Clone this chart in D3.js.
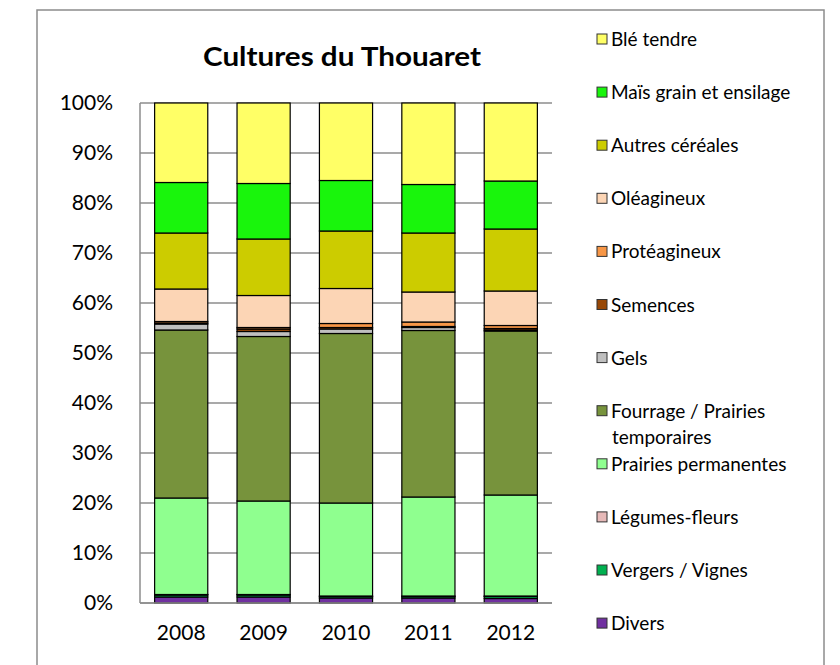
<!DOCTYPE html>
<html>
<head>
<meta charset="utf-8">
<script src="https://cdn.jsdelivr.net/npm/d3@7"></script>
<style>
  html, body { margin: 0; padding: 0; background: #fff; }
  svg { display: block; }
  text { font-family: Lato, "Open Sans", sans-serif; fill: #000; }
</style>
</head>
<body>
<svg id="chart" width="840" height="665"></svg>
<script>
// Years along the x axis
const years = ["2008", "2009", "2010", "2011", "2012"];

// Crop categories, stacked bottom to top
const crops = [
  "Divers", "Vergers / Vignes", "Légumes-fleurs", "Prairies permanentes",
  "Fourrage / Prairies temporaires", "Gels", "Semences", "Protéagineux",
  "Oléagineux", "Autres céréales", "Maïs grain et ensilage", "Blé tendre"
];

// Share of cultivated area (%) per crop, one value per year
const divers      = [1.2, 1.2, 1.0, 1.0, 0.9];
const vergers     = [0.4, 0.4, 0.3, 0.3, 0.4];
const legumes     = [0.1, 0.1, 0.1, 0.1, 0.1];
const prairiesPerm= [19.3, 18.7, 18.6, 19.8, 20.2];
const fourrage    = [33.6, 32.9, 33.9, 33.3, 32.8];
const gels        = [1.2, 1.0, 0.9, 0.6, 0.2];
const semences    = [0.2, 0.5, 0.3, 0.2, 0.3];
const proteagineux= [0.3, 0.3, 0.8, 0.9, 0.6];
const oleagineux  = [6.5, 6.4, 7.0, 6.0, 6.9];
const autresCer   = [11.2, 11.3, 11.5, 11.8, 12.4];
const mais        = [10.1, 11.1, 10.1, 9.7, 9.6];
const bleTendre   = [15.9, 16.1, 15.5, 16.3, 15.6];

const seriesValues = [divers, vergers, legumes, prairiesPerm, fourrage, gels,
  semences, proteagineux, oleagineux, autresCer, mais, bleTendre];

const colors = ["#7030A0", "#00B050", "#E6B9B8", "#8FFF8F", "#77933C", "#BFBFBF",
  "#984807", "#F79646", "#FCD5B5", "#CCCC00", "#19F50C", "#FFFF66"];

// Y axis tick labels
const yTicks = [0, 10, 20, 30, 40, 50, 60, 70, 80, 90, 100];

// Legend labels that wrap onto two lines
const legendLines = {
  "Fourrage / Prairies temporaires": ["Fourrage / Prairies", "temporaires"]
};

// Build table rows for the stack layout
const table = years.map((y, i) => {
  const row = { year: y };
  crops.forEach((c, k) => { row[c] = seriesValues[k][i]; });
  return row;
});

const svg = d3.select("#chart");

// Outer chart frame
svg.append("rect")
  .attr("x", 37).attr("y", 10)
  .attr("width", 787).attr("height", 680)
  .attr("fill", "#fff")
  .attr("stroke", "#8c8c8c").attr("stroke-width", 1.5);

const plot = { left: 140, right: 552, top: 103, bottom: 603 };

const x = d3.scaleBand()
  .domain(years)
  .range([plot.left, plot.right])
  .paddingInner(0.355)
  .paddingOuter(0.1775);

const y = d3.scaleLinear()
  .domain([0, 100])
  .range([plot.bottom, plot.top]);

// Horizontal gridlines
svg.append("g")
  .selectAll("line")
  .data(yTicks)
  .join("line")
  .attr("x1", plot.left).attr("x2", plot.right)
  .attr("y1", d => y(d)).attr("y2", d => y(d))
  .attr("stroke", "#8c8c8c").attr("stroke-width", 1.5);

// Left axis line
svg.append("line")
  .attr("x1", plot.left).attr("x2", plot.left)
  .attr("y1", plot.top).attr("y2", plot.bottom)
  .attr("stroke", "#8c8c8c").attr("stroke-width", 1.5);

// Y axis labels
const yAxis = d3.axisLeft(y)
  .tickValues(yTicks)
  .tickFormat(d => d + "%")
  .tickSize(0)
  .tickPadding(27);
const gy = svg.append("g")
  .attr("transform", `translate(${plot.left},0)`)
  .call(yAxis);
gy.select(".domain").remove();
gy.selectAll("text")
  .style("font-size", "21px")
  .style("font-family", "Lato, 'Open Sans', sans-serif")
  .attr("fill", "#000");

// Stacked bars
const stack = d3.stack().keys(crops);
const layers = stack(table);

const groups = svg.append("g")
  .selectAll("g")
  .data(layers)
  .join("g")
  .attr("fill", (d, i) => colors[i]);

groups.selectAll("rect")
  .data(d => d)
  .join("rect")
  .attr("x", d => x(d.data.year))
  .attr("width", x.bandwidth())
  .attr("y", d => y(d[1]))
  .attr("height", d => y(d[0]) - y(d[1]))
  .attr("stroke", "#000")
  .attr("stroke-width", 1.2);

// Bottom axis line
svg.append("line")
  .attr("x1", plot.left).attr("x2", plot.right)
  .attr("y1", plot.bottom).attr("y2", plot.bottom)
  .attr("stroke", "#8c8c8c").attr("stroke-width", 1.5);

// X axis labels
const xAxis = d3.axisBottom(x).tickSize(0).tickPadding(22);
const gx = svg.append("g")
  .attr("transform", `translate(0,${plot.bottom})`)
  .call(xAxis);
gx.select(".domain").remove();
gx.selectAll("text")
  .style("font-size", "21px")
  .style("font-family", "Lato, 'Open Sans', sans-serif")
  .attr("fill", "#000");

// Title
svg.append("text")
  .attr("x", 342).attr("y", 66)
  .attr("text-anchor", "middle")
  .attr("textLength", 278)
  .attr("lengthAdjust", "spacingAndGlyphs")
  .style("font-size", "27px")
  .style("font-weight", "bold")
  .text("Cultures du Thouaret");

// Legend (top to bottom mirrors the stack order reversed)
const legendItems = crops.map((c, i) => ({ name: c, color: colors[i] })).reverse();
const legend = svg.append("g");
const lg = legend.selectAll("g")
  .data(legendItems)
  .join("g")
  .attr("transform", (d, i) => `translate(597,${40 + i * 53.1})`);

lg.append("rect")
  .attr("x", 0).attr("y", -6)
  .attr("width", 10).attr("height", 10)
  .attr("fill", d => d.color)
  .attr("stroke", "#333").attr("stroke-width", 1);

lg.each(function (d) {
  const lines = legendLines[d.name] || [d.name];
  const t = d3.select(this).append("text")
    .attr("x", 14).attr("y", 6)
    .style("font-size", "19px");
  lines.forEach((ln, j) => {
    t.append("tspan")
      .attr("x", j === 0 ? 14 : 15)
      .attr("dy", j === 0 ? 0 : 26)
      .text(ln);
  });
});
</script>
</body>
</html>
